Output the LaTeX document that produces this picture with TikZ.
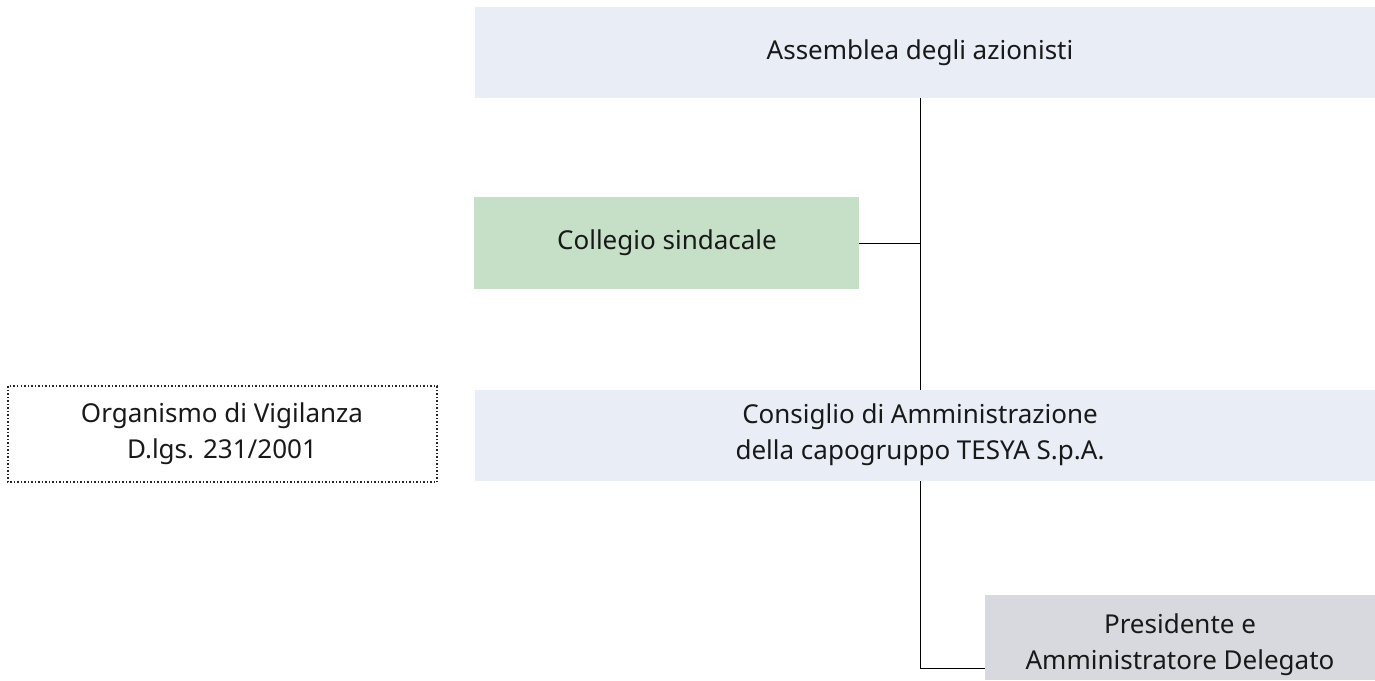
\documentclass[tikz,border=0pt]{standalone}
\usepackage{fontspec}
\setmainfont{Noto Sans}
\begin{document}
\begin{tikzpicture}[x=1pt,y=-1pt,
  box/.style={inner sep=0pt, align=center, font=\fontsize{26}{36}\selectfont, text=black!90},
  conn/.style={draw=black, line width=0.9pt}]
\useasboundingbox (0,0) rectangle (1375,680);
\definecolor{bluebg}{HTML}{E8EDF6}
\definecolor{greenbg}{HTML}{C6DFC7}
\definecolor{greybg}{HTML}{D8D9DE}
\fill[bluebg] (475,7) rectangle (1375,98);
\node[box] (ass) at (920,53) {Assemblea degli azionisti};
\coordinate (assB) at (920,98);
\fill[greenbg] (474,197) rectangle (859,289);
\node[box] (col) at (667,243) {Collegio sindacale};
\coordinate (colR) at (859,243);
\fill[bluebg] (475,390) rectangle (1375,481);
\node[box] (cda) at (920,435) {Consiglio di Amministrazione\\della capogruppo TESYA S.p.A.};
\coordinate (cdaT) at (920,390);
\coordinate (cdaB) at (920,481);
\draw[line width=1.5pt, dash pattern=on 1.5pt off 2pt, black!85] (8,386) rectangle (437,482);
\node[box] (odv) at (222,434) {Organismo di Vigilanza\\D.lgs. 231/2001};
\fill[greybg] (985,595) rectangle (1375,680);
\node[box] (pres) at (1180,645) {Presidente e\\Amministratore Delegato};
\coordinate (presL) at (985,668);
\draw[conn] (assB) -- (cdaT);
\draw[conn] (colR) -- (920,243);
\draw[conn] (cdaB) |- (presL);
\end{tikzpicture}
\end{document}
